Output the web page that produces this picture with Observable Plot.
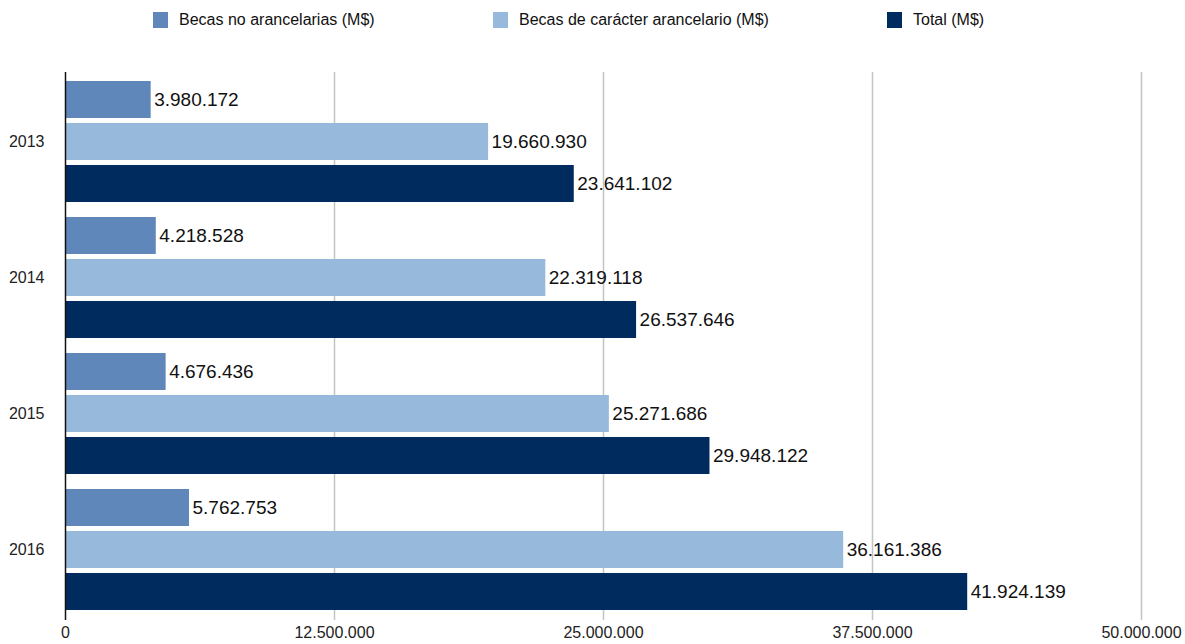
<!DOCTYPE html>
<html>
<head>
<meta charset="utf-8">
<script src="https://cdn.jsdelivr.net/npm/d3@7"></script>
<script src="https://cdn.jsdelivr.net/npm/@observablehq/plot@0.6"></script>
<style>
  body { margin: 0; background: #fff; font-family: "Liberation Sans", Arial, sans-serif; }
  #wrap { position: relative; width: 1185px; height: 644px; }
  #legend { position: absolute; left: 0; top: 0; width: 1185px; height: 44px; }
  .item { position: absolute; top: 11px; display: flex; align-items: center; font-size: 16px; color: #111; }
  .sw { width: 15px; height: 16px; margin-right: 11px; }
  #chart { position: absolute; left: 0; top: 44px; }
</style>
</head>
<body>
<div id="wrap">
  <div id="legend"></div>
  <div id="chart"></div>
</div>
<script>
const years = ["2013", "2014", "2015", "2016"];
const seriesNames = ["Becas no arancelarias (M$)", "Becas de carácter arancelario (M$)", "Total (M$)"];
const seriesColors = ["#5f87b9", "#96b9dc", "#002b5f"];
const noArancelarias = [3980172, 4218528, 4676436, 5762753];
const arancelarias = [19660930, 22319118, 25271686, 36161386];
const total = [23641102, 26537646, 29948122, 41924139];
const xTicks = [0, 12500000, 25000000, 37500000, 50000000];
const legendX = [153, 493, 887];

const locale = d3.formatLocale({decimal: ",", thousands: ".", grouping: [3], currency: ["$", ""]});
const fmt = locale.format(",d");

const seriesValues = [noArancelarias, arancelarias, total];
const rows = [];
seriesValues.forEach((vals, s) => vals.forEach((v, i) => rows.push({year: years[i], series: s, value: v})));

// legend
const legend = document.getElementById("legend");
seriesNames.forEach((name, i) => {
  const d = document.createElement("div");
  d.className = "item";
  d.style.left = legendX[i] + "px";
  d.innerHTML = `<div class="sw" style="background:${seriesColors[i]}"></div><span>${name}</span>`;
  legend.appendChild(d);
});

const insets = [[0, 84], [42, 42], [84, 0]];
const dys = [-42, 0, 42];

const marks = [
  Plot.ruleX(xTicks.slice(1), {stroke: "#c4c4c4", strokeWidth: 1.5}),
];
seriesValues.forEach((vals, s) => {
  const data = rows.filter(r => r.series === s);
  marks.push(Plot.barX(data, {
    x: "value", y: "year", fill: seriesColors[s],
    insetTop: insets[s][0], insetBottom: insets[s][1]
  }));
  marks.push(Plot.text(data, {
    x: "value", y: "year", text: d => fmt(d.value), dy: dys[s], dx: 3,
    textAnchor: "start", fontSize: 19, fill: "#111"
  }));
});
marks.push(Plot.ruleX([0], {stroke: "#111", strokeWidth: 1.5}));
marks.push(Plot.axisX(xTicks, {tickSize: 0, tickPadding: 6, fontSize: 16, tickFormat: d => fmt(d), fill: "#222", label: null}));
marks.push(Plot.axisY(years, {tickSize: 0, tickPadding: 21, fontSize: 16, fill: "#222", label: null}));

const chart = Plot.plot({
  width: 1185,
  height: 600,
  marginLeft: 65,
  marginRight: 44,
  marginTop: 28,
  marginBottom: 24,
  style: {fontFamily: "Liberation Sans, Arial, sans-serif", background: "#fff"},
  x: {domain: [0, 50000000], range: [65, 1141], label: null},
  y: {domain: years, range: [36, 568], paddingInner: 0.107, paddingOuter: 0, label: null},
  marks
});
document.getElementById("chart").appendChild(chart);
</script>
</body>
</html>
